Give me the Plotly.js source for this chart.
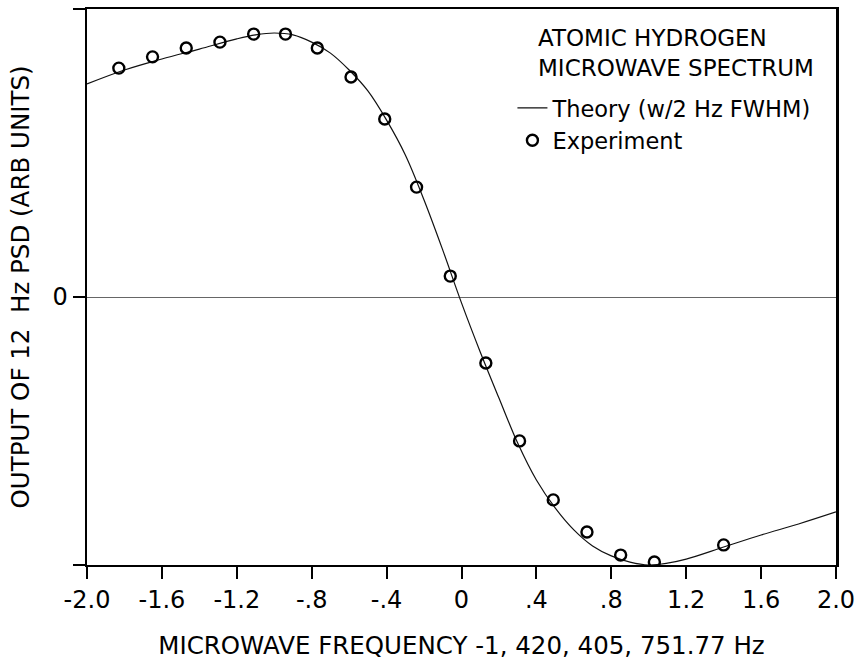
<!DOCTYPE html>
<html>
<head>
<meta charset="utf-8">
<script src="https://cdn.plot.ly/plotly-3.0.1.min.js"></script>
<style>html,body{margin:0;padding:0;background:#fff;}#chart{width:858px;height:663px;}</style>
</head>
<body>
<div id="chart"></div>
<script>
// Experiment points (frequency offset, Hz; output, arb units)
const expFreq = [-1.83, -1.65, -1.47, -1.29, -1.11, -0.94, -0.77, -0.59, -0.41, -0.24, -0.06, 0.13, 0.31, 0.49, 0.67, 0.85, 1.03, 1.40];
const expOut  = [0.854, 0.896, 0.929, 0.951, 0.981, 0.981, 0.929, 0.821, 0.664, 0.410, 0.078, -0.246, -0.537, -0.757, -0.877, -0.963, -0.989, -0.925];

// Theory curve (w/2 Hz FWHM)
const theoryFreq = [-2.0, -1.8, -1.6, -1.4, -1.2, -1.1, -1.0, -0.9, -0.8, -0.7, -0.6, -0.5, -0.4, -0.3, -0.2, -0.1, 0.0, 0.1, 0.2, 0.3, 0.4, 0.5, 0.6, 0.7, 0.8, 0.9, 1.0, 1.1, 1.2, 1.4, 1.6, 1.8, 2.0];
const theoryOut  = [0.795, 0.847, 0.888, 0.925, 0.963, 0.978, 0.985, 0.978, 0.951, 0.910, 0.847, 0.769, 0.660, 0.530, 0.362, 0.175, -0.022, -0.205, -0.377, -0.545, -0.683, -0.787, -0.869, -0.929, -0.966, -0.989, -1.0, -0.993, -0.978, -0.933, -0.888, -0.847, -0.802];

// Tick labels
const xTickVals = [-2.0, -1.6, -1.2, -0.8, -0.4, 0, 0.4, 0.8, 1.2, 1.6, 2.0];
const xTickText = ["-2.0", "-1.6", "-1.2", "-.8", "-.4", "0", ".4", ".8", "1.2", "1.6", "2.0"];
const yTickVals = [-1, 0, 1.0746];
const yTickText = ["", "0", ""];

const FONT = "DejaVu Sans, Liberation Sans, sans-serif";

const traces = [
  {
    x: theoryFreq, y: theoryOut, mode: "lines", name: "Theory (w/2 Hz FWHM)",
    line: {color: "#111", width: 1.2, shape: "spline", smoothing: 1.0},
    hoverinfo: "skip"
  },
  {
    x: expFreq, y: expOut, mode: "markers", name: "Experiment",
    marker: {symbol: "circle-open", size: 11, color: "#000", line: {color: "#000", width: 2.4}}
  }
];

const layout = {
  width: 858, height: 663,
  margin: {l: 87, r: 22, t: 9, b: 98},
  paper_bgcolor: "#fff", plot_bgcolor: "#fff",
  font: {family: FONT, color: "#000", size: 20},
  showlegend: true,
  legend: {
    x: 0.568, y: 0.86, xanchor: "left", yanchor: "top",
    font: {family: FONT, size: 22.5, color: "#000"},
    bgcolor: "rgba(0,0,0,0)", borderwidth: 0,
    itemwidth: 30, tracegroupgap: 0
  },
  xaxis: {
    range: [-2.0, 2.0],
    tickmode: "array", tickvals: xTickVals, ticktext: xTickText,
    ticks: "outside", ticklen: 12, tickwidth: 2, tickcolor: "#000",
    showline: true, linecolor: "#000", linewidth: 2, mirror: true,
    showgrid: false, zeroline: false,
    tickfont: {family: FONT, size: 24, color: "#000"},
    title: {text: "MICROWAVE FREQUENCY -1, 420, 405, 751.77 Hz", font: {family: FONT, size: 24.5, color: "#000"}, standoff: 24}
  },
  yaxis: {
    range: [-1.0, 1.0746],
    tickmode: "array", tickvals: yTickVals, ticktext: yTickText,
    ticks: "outside", ticklen: 12, tickwidth: 2, tickcolor: "#000",
    showline: true, linecolor: "#000", linewidth: 2.5, mirror: true,
    showgrid: false,
    zeroline: true, zerolinecolor: "#666", zerolinewidth: 1,
    tickfont: {family: FONT, size: 24, color: "#000"},
    title: {text: "OUTPUT OF 12  Hz PSD (ARB UNITS)", font: {family: FONT, size: 24.5, color: "#000"}, standoff: 16}
  },
  annotations: [
    {xref: "paper", yref: "paper", x: 0.6, y: 0.974, xanchor: "left", yanchor: "top", showarrow: false,
     align: "left", text: "ATOMIC HYDROGEN<br>MICROWAVE SPECTRUM",
     font: {family: FONT, size: 23, color: "#000"}}
  ]
};

Plotly.newPlot("chart", traces, layout, {displayModeBar: false, staticPlot: true});
</script>
</body>
</html>
